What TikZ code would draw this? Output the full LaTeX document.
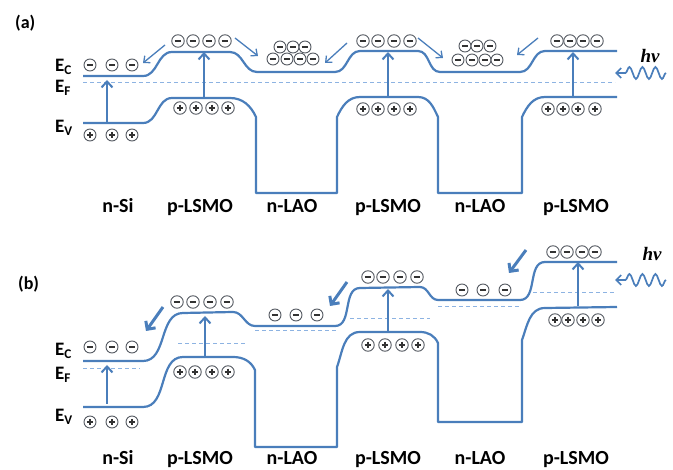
\documentclass[tikz,border=0pt]{standalone}
\usepackage{fontspec}
\setmainfont{Carlito}
\newfontfamily\hvfont{Liberation Serif}
\usetikzlibrary{arrows.meta,decorations.pathmorphing}
\definecolor{bandblue}{RGB}{74,126,187}
\definecolor{fermiblue}{RGB}{141,179,226}
\definecolor{circgray}{RGB}{85,90,98}
\tikzset{
  band/.style={bandblue,line width=2.2pt,line join=round},
  fermi/.style={fermiblue,line width=1pt,dash pattern=on 4pt off 3pt},
  flow/.style={bandblue,line width=1.3pt,-{Straight Barb[length=5pt,width=9pt]}},
  bigflow/.style={bandblue,line width=3pt,-{Straight Barb[length=6pt,width=12pt]}},
  excite/.style={bandblue,line width=2pt,-{Straight Barb[length=6pt,width=11pt]}},
  elec/.style={circle,draw=circgray,fill=white,line width=0.9pt,minimum size=12.5pt,inner sep=0pt,
    path picture={\draw[line width=1.7pt,black!80] ([xshift=2.8pt]path picture bounding box.west) -- ([xshift=-2.8pt]path picture bounding box.east);}},
  hole/.style={elec,
    path picture={\draw[line width=1.5pt,black!80] ([xshift=2.8pt]path picture bounding box.west) -- ([xshift=-2.8pt]path picture bounding box.east)
      ([yshift=-2.8pt]path picture bounding box.north) -- ([yshift=2.8pt]path picture bounding box.south);}},
  small/.style={minimum size=12pt},
  layer/.style={font=\fontsize{20}{24}\selectfont\bfseries,anchor=base},
  level/.style={font=\fontsize{19}{22}\selectfont\bfseries,anchor=base west,inner sep=0pt},
  panel/.style={font=\fontsize{18}{22}\selectfont\bfseries,anchor=base west,inner sep=0pt},
  hv/.style={font=\fontsize{19}{22}\selectfont\hvfont\bfseries\itshape,inner sep=0pt},
  wave/.style={bandblue,line width=1.7pt,-{Straight Barb[length=5pt,width=10pt]},decorate,
    decoration={snake,amplitude=6pt,segment length=13pt,post length=10pt}}
}
\begin{document}
\begin{tikzpicture}[x=1pt,y=-1pt]
\useasboundingbox (0,0) rectangle (673,470);

% ---------------- (a) ----------------
\node[panel] (labA) at (15,29) {(a)};
\node[level] (ecA) at (55,72) {E\textsubscript{C}};
\node[level] (efA) at (55,93) {E\textsubscript{F}};
\node[level] (evA) at (55,133) {E\textsubscript{V}};

\draw[fermi] (83,83) -- (615,83);
\draw[band] (83,76) -- (143,76) to[out=0,in=180] (172,52) -- (230,52) to[out=0,in=180] (257,72) -- (335,72)
  to[out=0,in=180] (360,51) -- (418,51) to[out=0,in=180] (440,72) -- (520,72) to[out=0,in=180] (545,51) -- (617,51);
\draw[band] (83,123) -- (143,123) to[out=0,in=180] (172,98) -- (230,98) to[out=0,in=115] (256,117) -- (256,193) -- (337,193)
  -- (337,117) to[out=65,in=180] (360,97) -- (418,97) to[out=0,in=115] (438,117) -- (438,193) -- (522,193)
  -- (522,117) to[out=65,in=180] (545,97) -- (617,97);

\foreach \x [count=\i] in {90,112,132} {
  \node[elec,small] (eA-si-\i) at (\x,65) {};
  \node[hole,small] (hA-si-\i) at (\x,135) {};
}
\foreach \x [count=\i] in {178,193,209,225} \node[elec] (eA-p1-\i) at (\x,41) {};
\foreach \x [count=\i] in {180,196,212,228} \node[hole] (hA-p1-\i) at (\x,108) {};
\foreach \x [count=\i] in {363,378,394,410} {
  \node[elec] (eA-p2-\i) at (\x,41) {};
  \node[hole] (hA-p2-\i) at (\x,109) {};
}
\foreach \x [count=\i] in {557,570,583,597} \node[elec] (eA-p3-\i) at (\x,41) {};
\foreach \x [count=\i] in {548,563,578,595} \node[hole] (hA-p3-\i) at (\x,109) {};
\foreach \x [count=\i] in {280,293,305} \node[elec,small] (eA-n1t-\i) at (\x,47) {};
\foreach \x [count=\i] in {273,287,300,313} \node[elec,small] (eA-n1b-\i) at (\x,59) {};
\foreach \x [count=\i] in {465,477,490} \node[elec,small] (eA-n2t-\i) at (\x,46) {};
\foreach \x [count=\i] in {458,472,485,497} \node[elec,small] (eA-n2b-\i) at (\x,60) {};

\coordinate (fA1s) at (165,45); \coordinate (fA1e) at (143,63);
\coordinate (fA2s) at (235,38); \coordinate (fA2e) at (258,56);
\coordinate (fA3s) at (347,43); \coordinate (fA3e) at (325,63);
\coordinate (fA4s) at (418,38); \coordinate (fA4e) at (443,58);
\coordinate (fA5s) at (538,38); \coordinate (fA5e) at (517,55);
\foreach \i in {1,...,5} \draw[flow] (fA\i s) -- (fA\i e);

\coordinate (xA1s) at (107,122); \coordinate (xA1e) at (107,80);
\coordinate (xA2s) at (204,98);  \coordinate (xA2e) at (204,52);
\coordinate (xA3s) at (388,97);  \coordinate (xA3e) at (388,52);
\coordinate (xA4s) at (573,97);  \coordinate (xA4e) at (573,52);
\foreach \i in {1,...,4} \draw[excite] (xA\i s) -- (xA\i e);

\node[hv] (hvA) at (650,56) {hν};
\coordinate (waveAs) at (666,73); \coordinate (waveAe) at (615,73);
\draw[wave] (waveAs) -- (waveAe);

\foreach \t/\x [count=\i] in {n-Si/118,p-LSMO/200,n-LAO/292,p-LSMO/388,n-LAO/480,p-LSMO/576}
  \node[layer] (layA-\i) at (\x,213) {\t};

% ---------------- (b) ----------------
\node[panel] (labB) at (18,290) {(b)};
\node[level] (ecB) at (55,356) {E\textsubscript{C}};
\node[level] (efB) at (55,380) {E\textsubscript{F}};
\node[level] (evB) at (55,422) {E\textsubscript{V}};

\draw[fermi] (83,369) -- (140,369);
\draw[fermi] (178,344) -- (247,344);
\draw[fermi] (255,331) -- (336,331);
\draw[fermi] (350,319) -- (430,319);
\draw[fermi] (438,307) -- (520,307);
\draw[fermi] (533,293) -- (615,293);

\draw[band] (83,361) -- (143,361) to[out=0,in=180] (183,313) -- (233,312) to[out=0,in=180] (255,326) -- (335,326)
  to[out=0,in=180] (360,288) -- (420,287) to[out=0,in=180] (438,300) -- (520,300) to[out=0,in=180] (545,262) -- (617,262);
\draw[band] (83,407) -- (143,407) to[out=0,in=180] (183,357) -- (233,357) to[out=0,in=115] (255,370) -- (255,447) -- (337,447)
  -- (337,367) to[out=70,in=180] (360,332) -- (420,332) to[out=0,in=115] (438,343) -- (438,422) -- (522,422)
  -- (522,340) to[out=70,in=180] (545,308) -- (617,307);

\foreach \x [count=\i] in {90,112,132} {
  \node[elec,small] (eB-si-\i) at (\x,347) {};
  \node[hole,small] (hB-si-\i) at (\x,422) {};
}
\foreach \x [count=\i] in {177,193,210,227} \node[elec] (eB-p1-\i) at (\x,302) {};
\foreach \x [count=\i] in {180,195,212,228} \node[hole] (hB-p1-\i) at (\x,372) {};
\foreach \x [count=\i] in {368,383,400,417} \node[elec] (eB-p2-\i) at (\x,277) {};
\foreach \x [count=\i] in {368,385,402,418} \node[hole] (hB-p2-\i) at (\x,345) {};
\foreach \x [count=\i] in {553,567,582,595} \node[elec] (eB-p3-\i) at (\x,252) {};
\foreach \x [count=\i] in {555,568,583,598} \node[hole] (hB-p3-\i) at (\x,320) {};
\foreach \x [count=\i] in {275,296,317} \node[elec,small] (eB-n1-\i) at (\x,315) {};
\foreach \x [count=\i] in {462,483,505} \node[elec,small] (eB-n2-\i) at (\x,290) {};

\coordinate (fB1s) at (163,307); \coordinate (fB1e) at (146,331);
\coordinate (fB2s) at (347,282); \coordinate (fB2e) at (330,306);
\coordinate (fB3s) at (526,250); \coordinate (fB3e) at (509,273);
\foreach \i in {1,2,3} \draw[bigflow] (fB\i s) -- (fB\i e);

\coordinate (xB1s) at (107,404); \coordinate (xB1e) at (107,365);
\coordinate (xB2s) at (205,357); \coordinate (xB2e) at (205,316);
\coordinate (xB3s) at (388,331); \coordinate (xB3e) at (388,289);
\coordinate (xB4s) at (578,306); \coordinate (xB4e) at (578,262);
\foreach \i in {1,...,4} \draw[excite] (xB\i s) -- (xB\i e);

\node[hv] (hvB) at (652,254) {hν};
\coordinate (waveBs) at (666,280); \coordinate (waveBe) at (615,280);
\draw[wave] (waveBs) -- (waveBe);

\foreach \t/\x [count=\i] in {n-Si/118,p-LSMO/200,n-LAO/292,p-LSMO/388,n-LAO/480,p-LSMO/576}
  \node[layer] (layB-\i) at (\x,465) {\t};
\end{tikzpicture}
\end{document}
